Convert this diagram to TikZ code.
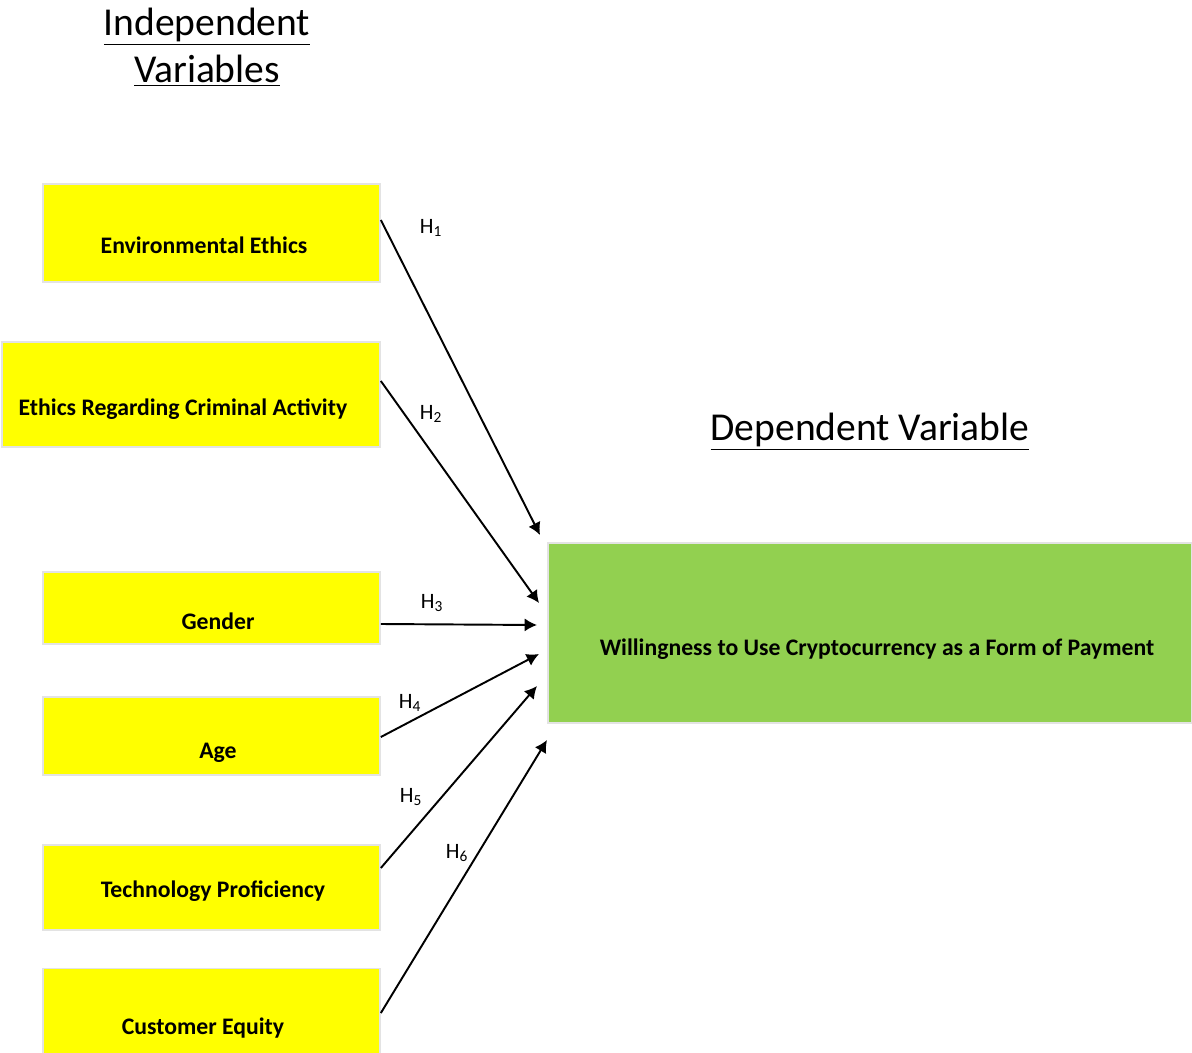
\documentclass[tikz,border=0pt]{standalone}
\usepackage{fontspec}
\setmainfont{Carlito}
\usepackage{tikz}
\usetikzlibrary{arrows.meta}

\definecolor{boxyellow}{HTML}{FFFF00}
\definecolor{boxgreen}{HTML}{92D050}
\definecolor{boxedge}{HTML}{E3E3E3}

\begin{document}
\begin{tikzpicture}[x=0.02cm, y=-0.02cm,
    ivbox/.style={draw=boxedge, line width=1pt, fill=boxyellow, minimum width=6.74cm},
    dvbox/.style={draw=boxedge, line width=1pt, fill=boxgreen},
    boxtext/.style={anchor=base, font=\fontsize{13.5}{16}\selectfont\bfseries, inner sep=0pt},
    heading/.style={font=\fontsize{22.5}{27}\selectfont, align=center},
    hyp/.style={-{Latex[length=7pt, width=7.5pt]}, line width=1.1pt},
    hlabel/.style={font=\fontsize{12.5}{14}\selectfont, inner sep=0pt}]
          \useasboundingbox (0,0) rectangle (1192,1053);
          \node[heading] (indep) at (207,47) {\underline{Independent}\\\underline{Variables}};
          \node[heading] (dep) at (870,432) {\underline{Dependent Variable}};

          % independent variables
          \node[ivbox, minimum height=1.96cm] (env) at (211.5,233) {};
          \node[ivbox, minimum width=7.56cm, minimum height=2.10cm] (crime) at (191,394.5) {};
          \node[ivbox, minimum height=1.44cm] (gender) at (211.5,608) {};
          \node[ivbox, minimum height=1.56cm] (age) at (211.5,736) {};
          \node[ivbox, minimum height=1.70cm] (tech) at (211.5,887.5) {};
          \node[ivbox, minimum height=1.70cm] (equity) at (211.5,1011) {};
          \node[boxtext] (env-t) at (204,254) {Environmental Ethics};
          \node[boxtext] (crime-t) at (183,416) {Ethics Regarding Criminal Activity};
          \node[boxtext] (gender-t) at (218,629) {Gender};
          \node[boxtext] (age-t) at (218,758) {Age};
          \node[boxtext] (tech-t) at (213,897) {Technology Proficiency};
          \node[boxtext] (equity-t) at (203,1034) {Customer Equity};

          % dependent variable
          \node[dvbox, minimum width=12.88cm, minimum height=3.60cm] (pay) at (870,633) {};
          \node[boxtext] (pay-t) at (877,655) {Willingness to Use Cryptocurrency as a Form of Payment};

          \coordinate (h1) at (540,535);
          \coordinate (h2) at (539,603);
          \coordinate (h3) at (537,625);
          \coordinate (h4) at (539,654);
          \coordinate (h5) at (537,686);
          \coordinate (h6) at (547,740);

          % hypotheses
          \draw[hyp] (env.east |- 0,220) -- (h1);
          \draw[hyp] (crime.east |- 0,381) -- (h2);
          \draw[hyp] (gender.east |- 0,624) -- (h3);
          \draw[hyp] (age.east |- 0,737) -- (h4);
          \draw[hyp] (tech.east |- 0,868) -- (h5);
          \draw[hyp] (equity.east |- 0,1013) -- (h6);
          \node[hlabel] (l1) at (431,228) {H\textsubscript{1}};
          \node[hlabel] (l2) at (431,414) {H\textsubscript{2}};
          \node[hlabel] (l3) at (432,603) {H\textsubscript{3}};
          \node[hlabel] (l4) at (410,703) {H\textsubscript{4}};
          \node[hlabel] (l5) at (411,797) {H\textsubscript{5}};
          \node[hlabel] (l6) at (457,853) {H\textsubscript{6}};
        \end{tikzpicture}
\end{document}
